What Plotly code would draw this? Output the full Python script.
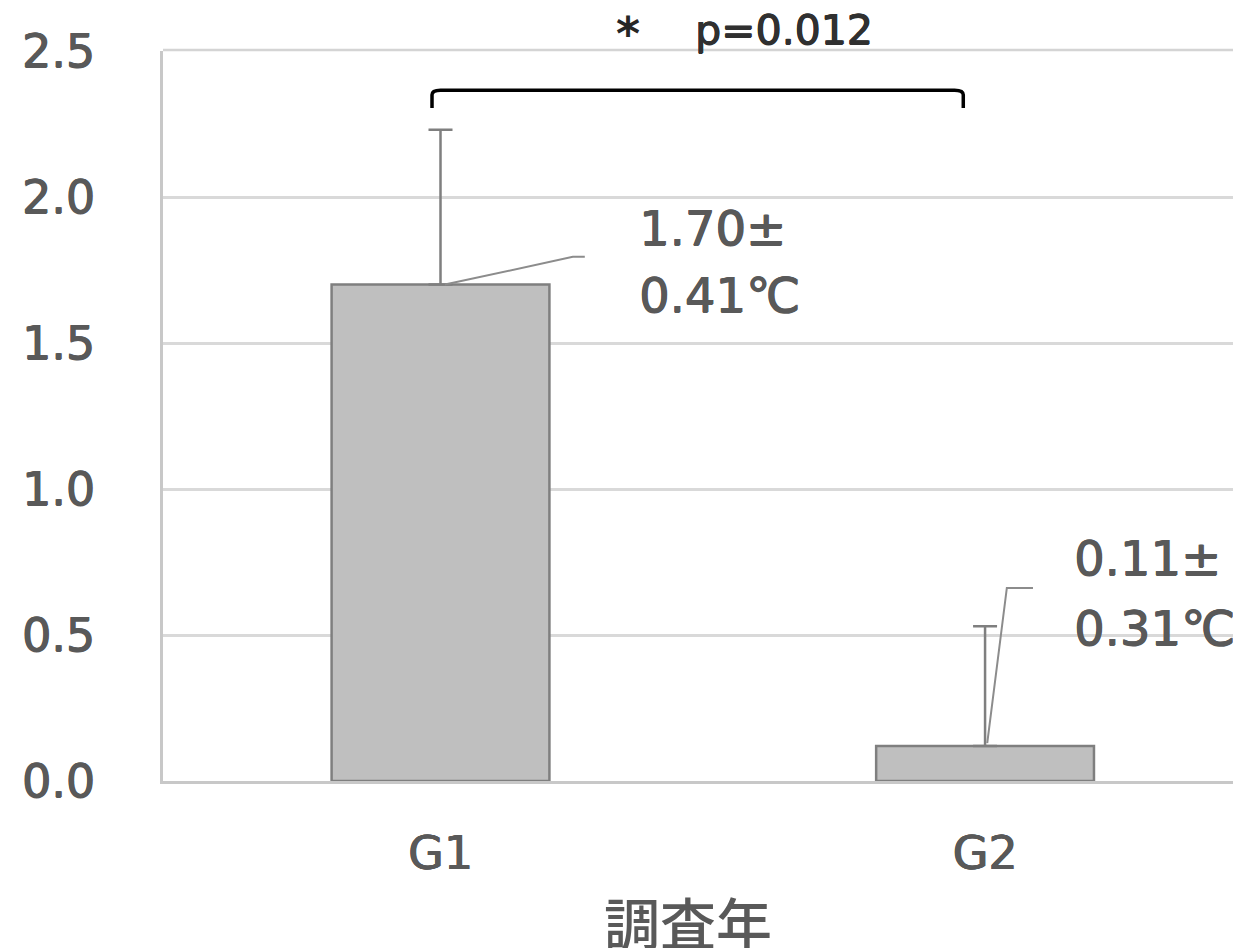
import plotly.graph_objects as go

# ---- data ----
categories = ["G1", "G2"]
means = [1.70, 0.12]
err_upper = [0.53, 0.41]
label_line1 = ["1.70±", "0.11±"]
label_line2 = ["0.41℃", "0.31℃"]
y_ticks = [0.0, 0.5, 1.0, 1.5, 2.0, 2.5]
y_ticktext = ["0.0", "0.5", "1.0", "1.5", "2.0", "2.5"]
p_text = "p=0.012"
x_title = "調査年"

FONT = "DejaVu Sans, Noto Sans CJK JP"
CJK = "Noto Sans CJK JP"
GRAY_TXT = "#595959"
SH = "0.8px 0 0 {c}, -0.3px 0 0 {c}, 0 0.5px 0 {c}"
x_pos = list(range(len(categories)))

# figure geometry (page body has an 8px margin)
W, H = 1233, 940
ML, MT, MB = 155, 43, 167
PH = H - MT - MB

fig = go.Figure()
fig.add_trace(go.Bar(
    x=x_pos, y=means, width=0.4,
    marker=dict(color="#bfbfbf", line=dict(color="#7f7f7f", width=2.5)),
    error_y=dict(type="data", symmetric=False, array=err_upper,
                 arrayminus=[0] * len(means), color="#7f7f7f",
                 thickness=2.5, width=12),
    showlegend=False,
))

# top border of plot area
fig.add_shape(type="line", xref="paper", yref="paper", x0=0, x1=1, y0=1.0015, y1=1.0015,
              line=dict(color="#d4d4d4", width=2.5), layer="below")

# leader lines
fig.add_shape(type="path", path="M 0.008,1.70 L 0.243,1.795 L 0.265,1.795",
              line=dict(color="#8c8c8c", width=2), xref="x", yref="y")
fig.add_shape(type="path", path="M 1.004,0.13 L 1.040,0.661 L 1.088,0.661",
              line=dict(color="#8c8c8c", width=2), xref="x", yref="y")

# significance bracket
fig.add_shape(type="path",
              path="M -0.0156,2.305 L -0.0156,2.35 Q -0.0156,2.366 0.0,2.366 "
                   "L 0.944,2.366 Q 0.960,2.366 0.960,2.35 L 0.960,2.305",
              line=dict(color="black", width=3.5), xref="x", yref="y")

# value labels
lab_x = [0.361, 1.160]
lab_y1 = [1.894, 0.764]
lab_y2 = [1.664, 0.524]
for i in range(len(categories)):
    for ly, txt in ((lab_y1[i], label_line1[i]), (lab_y2[i], label_line2[i])):
        fig.add_annotation(x=lab_x[i], y=ly, text=txt, showarrow=False,
                           xanchor="left", yanchor="middle",
                           font=dict(family=FONT, size=48, color=GRAY_TXT,
                                     shadow=SH.format(c=GRAY_TXT)))

# star and p-value (above the plot area)
fig.add_annotation(x=0.345, xref="x", y=1 + (MT - 26) / PH, yref="paper", text="<b>*</b>",
                   showarrow=False, xanchor="center", yanchor="middle",
                   font=dict(family=FONT, size=46, color="#262626"))
fig.add_annotation(x=0.631, xref="x", y=1 + (MT - 22) / PH, yref="paper", text=p_text,
                   showarrow=False, xanchor="center", yanchor="middle",
                   font=dict(family=FONT, size=41, color="#303030",
                             shadow=SH.format(c="#303030")))

# x-axis title
fig.add_annotation(x=0.487, xref="paper", y=-(912 - (H - MB)) / PH, yref="paper",
                   text=x_title, showarrow=False, xanchor="center", yanchor="middle",
                   font=dict(family=CJK, size=56, color=GRAY_TXT, weight=500))

fig.update_layout(
    width=W, height=H,
    margin=dict(l=ML, r=0, t=MT, b=MB),
    plot_bgcolor="white", paper_bgcolor="white",
    xaxis=dict(range=[-0.5096, 1.470], tickvals=x_pos, ticktext=categories,
               showgrid=False, zeroline=False, showline=True,
               linecolor="#c8c8c8", linewidth=2.5, ticks="",
               ticklabelstandoff=30,
               tickfont=dict(family=FONT, size=46, color=GRAY_TXT,
                             shadow=SH.format(c=GRAY_TXT))),
    yaxis=dict(range=[0, 2.5], tickvals=y_ticks, ticktext=y_ticktext,
               showgrid=True, gridcolor="#d9d9d9", gridwidth=2.5,
               zeroline=False, showline=True, linecolor="#c8c8c8", linewidth=2.5,
               ticks="", ticklabelstandoff=56,
               tickfont=dict(family=FONT, size=46, color=GRAY_TXT,
                             shadow=SH.format(c=GRAY_TXT))),
    font=dict(family=FONT),
)

fig.write_html("out.html")
